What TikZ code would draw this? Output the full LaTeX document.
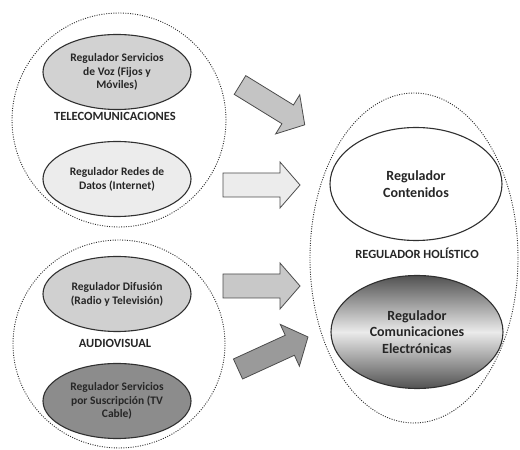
\documentclass[tikz,border=0pt]{standalone}
\usepackage{fontspec}
\setmainfont{Carlito}
\usetikzlibrary{shapes.geometric}
\definecolor{fillA}{HTML}{D2D2D2}
\definecolor{fillB}{HTML}{ECECEC}
\definecolor{fillC}{HTML}{D0D0D0}
\definecolor{fillD}{HTML}{8C8C8C}
\definecolor{arrA}{HTML}{C4C4C4}
\definecolor{arrB}{HTML}{ECECEC}
\definecolor{arrC}{HTML}{C8C8C8}
\definecolor{arrD}{HTML}{9A9A9A}
\definecolor{lineC}{HTML}{303030}
\tikzset{
  group/.style={ellipse, draw=lineC, line width=0.9pt, dash pattern=on 1pt off 1.4pt, inner sep=0pt},
  reg/.style={ellipse, draw=lineC, line width=1.1pt, inner sep=0pt, minimum width=148pt, minimum height=75pt,
    align=center, font=\fontsize{11.5}{13.8}\selectfont\bfseries, text=black!85},
  bigreg/.style={ellipse, draw=lineC, line width=1.1pt, inner sep=0pt, minimum width=172pt, minimum height=113pt,
    align=center, font=\fontsize{14}{16.5}\selectfont\bfseries, text=black!85},
  grouplabel/.style={font=\fontsize{12.5}{15}\selectfont\bfseries, text=black!85},
  blockarrow/.style={draw=black!70, line width=0.8pt, line join=miter}
}
\begin{document}
\begin{tikzpicture}[x=1pt,y=1pt]
\useasboundingbox (0,0) rectangle (520,450);
% group outlines
\node[group, minimum width=214pt, minimum height=214pt] (telgroup) at (119,330) {};
\node[group, minimum width=212pt, minimum height=208pt] (avgroup) at (119,106) {};
\node[group, minimum width=208pt, minimum height=330pt] (holgroup) at (414,192) {};
% left regulators
\node[reg, fill=fillA] (voz) at (117,378) {Regulador Servicios\\de Voz (Fijos y\\Móviles)};
\node[grouplabel] (telecom) at (115,334) {TELECOMUNICACIONES};
\node[reg, fill=fillB] (datos) at (117,271) {Regulador Redes de\\Datos (Internet)};
\node[reg, fill=fillC] (difusion) at (117,156) {Regulador Difusión\\(Radio y Televisión)};
\node[grouplabel] (audiovisual) at (115,107) {AUDIOVISUAL};
\node[reg, fill=fillD] (suscripcion) at (117,49) {Regulador Servicios\\por Suscripción (TV\\Cable)};
% right regulators
\node[bigreg, fill=white] (contenidos) at (416,266) {Regulador\\Contenidos};
\node[grouplabel] (holistico) at (417,197) {REGULADOR HOLÍSTICO};
\node[bigreg, top color=black!68, bottom color=black!68, middle color=black!8] (electronicas) at (417,118) {Regulador\\Comunicaciones\\Electrónicas};
% block arrows
\draw[blockarrow, fill=arrA, shift={(240,365)}, rotate=-31.6]
  (0,-11) -- (56,-11) -- (56,-23) -- (76,0) -- (56,23) -- (56,11) -- (0,11) -- cycle;
\draw[blockarrow, fill=arrB, shift={(223,265)}]
  (0,-12) -- (57,-12) -- (57,-23) -- (77,0) -- (57,23) -- (57,12) -- (0,12) -- cycle;
\draw[blockarrow, fill=arrC, shift={(223,164)}]
  (0,-12) -- (57,-12) -- (57,-23) -- (77,0) -- (57,23) -- (57,12) -- (0,12) -- cycle;
\draw[blockarrow, fill=arrD, shift={(238,81)}, rotate=24.6]
  (0,-11) -- (57,-11) -- (57,-23) -- (77,0) -- (57,23) -- (57,11) -- (0,11) -- cycle;
\end{tikzpicture}
\end{document}
